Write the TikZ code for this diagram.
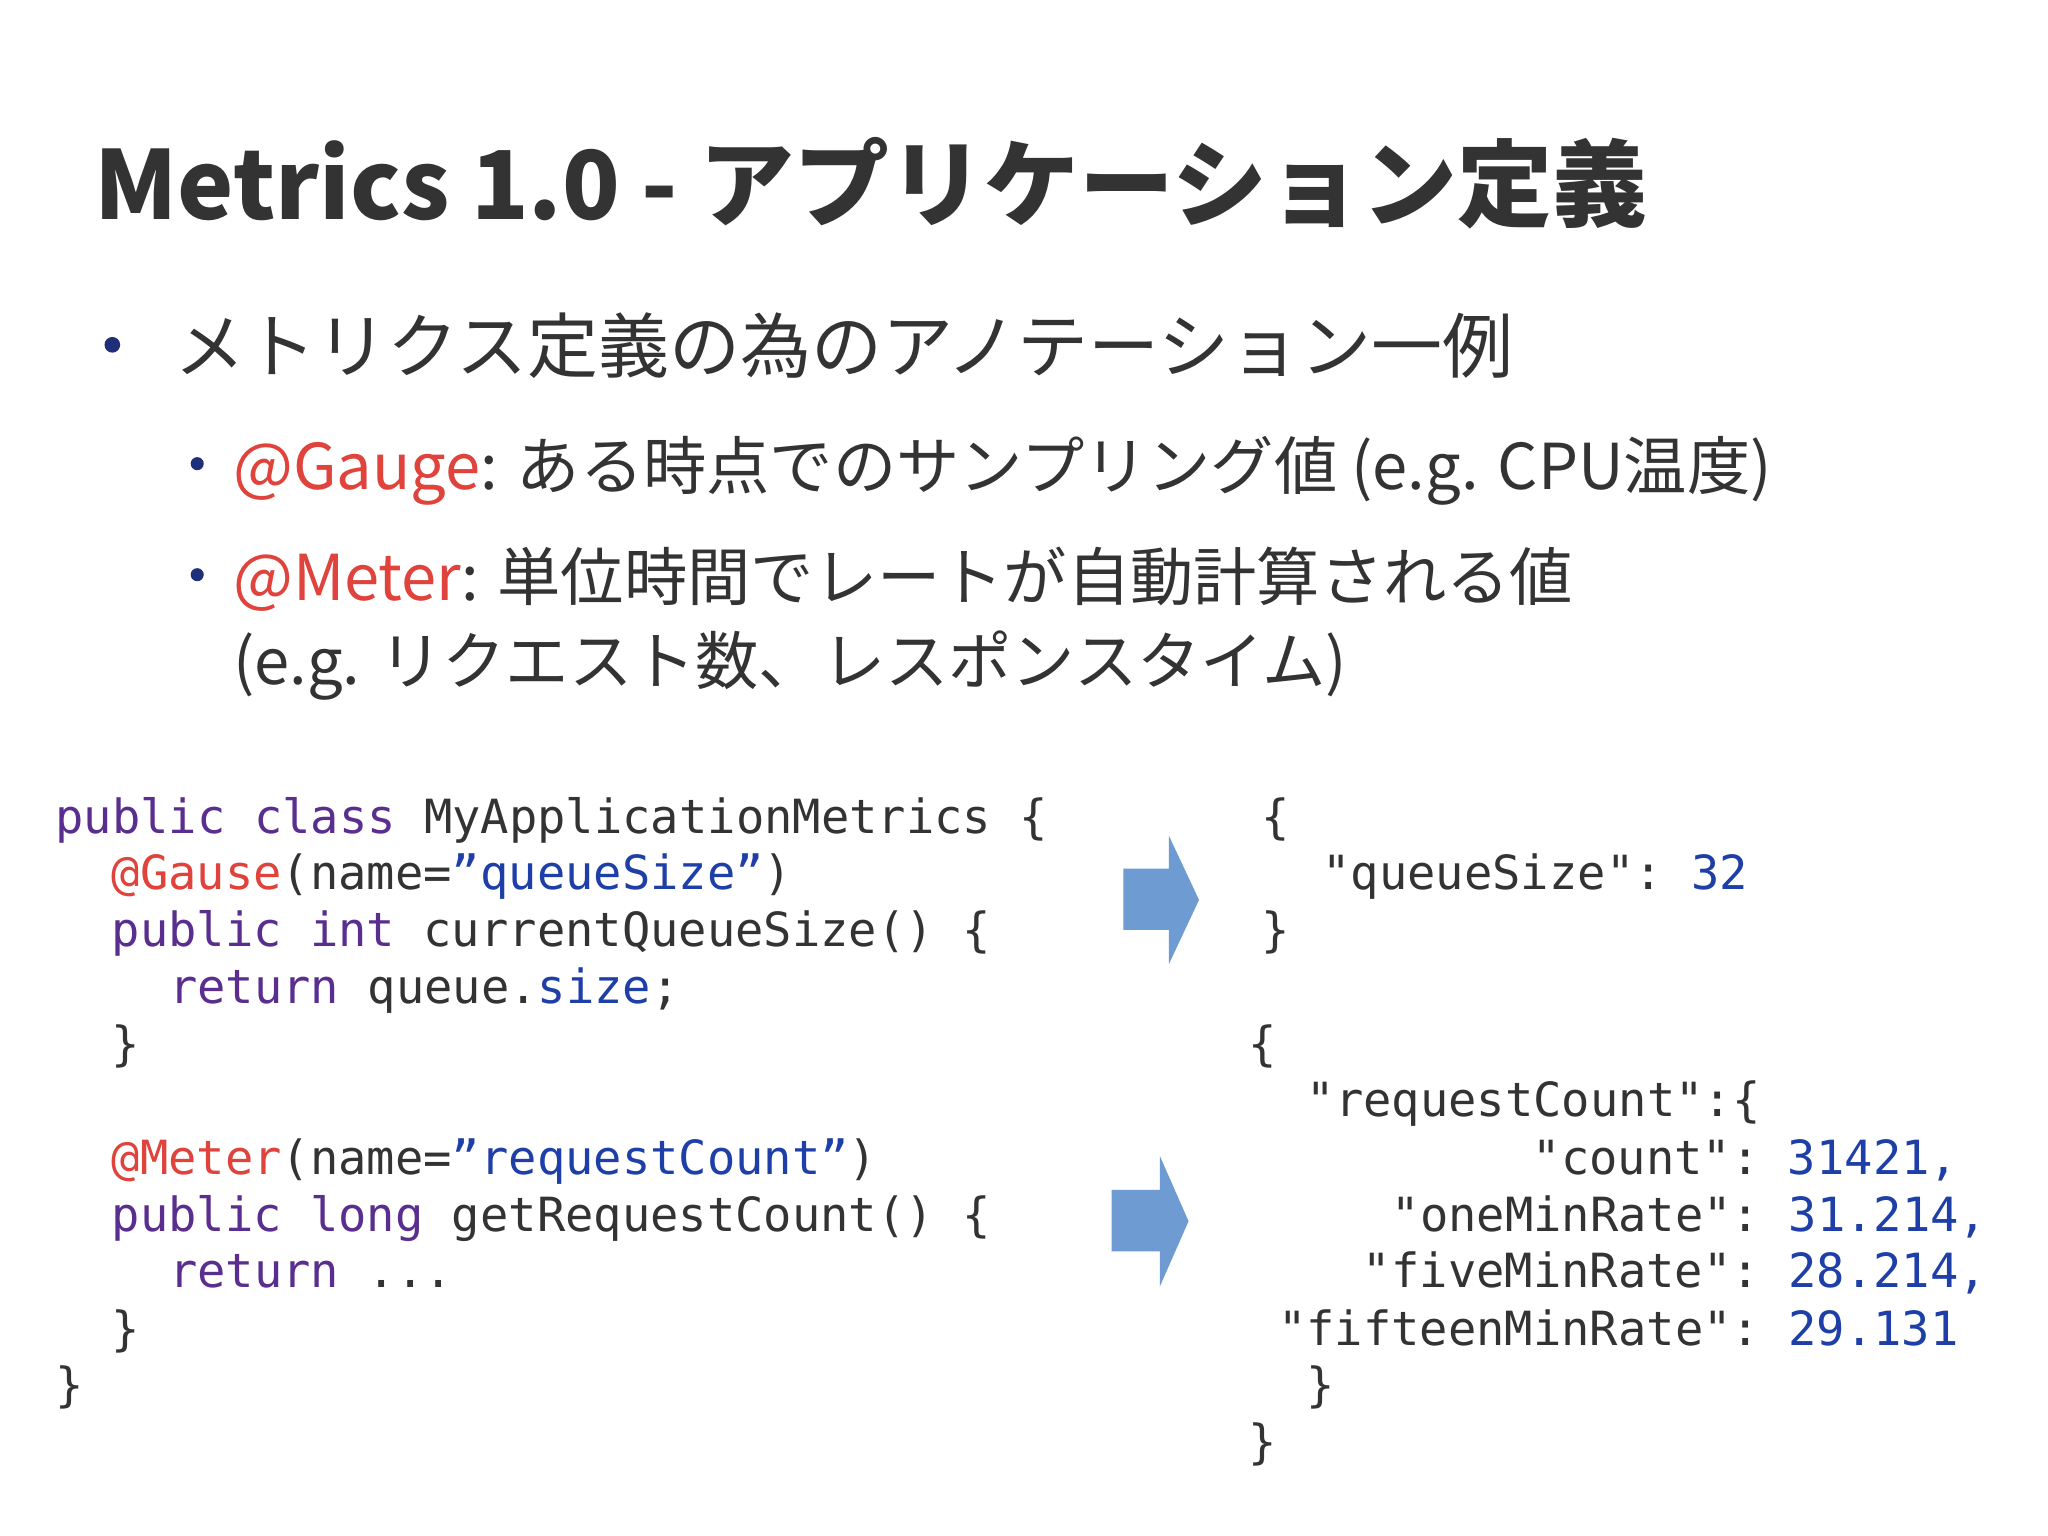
\documentclass[tikz,border=0pt]{standalone}
\usepackage{fontspec}
\setmainfont{Noto Sans CJK JP}
\setmonofont{DejaVu Sans Mono}
\definecolor{kw}{HTML}{5A2E8E}
\definecolor{an}{HTML}{E0423C}
\definecolor{st}{HTML}{1E3FA8}
\definecolor{tx}{HTML}{333333}
\definecolor{ar}{HTML}{6E9BD2}
\definecolor{bl}{HTML}{1F2F7A}
\tikzset{
 code/.style={anchor=base west,inner sep=0,font=\ttfamily\fontsize{13.4}{16}\selectfont,text=tx},
 lvone/.style={anchor=base west,inner sep=0,font=\fontsize{20.2}{24}\selectfont,text=tx},
 lvtwo/.style={anchor=base west,inner sep=0,font=\fontsize{18}{22}\selectfont,text=tx},
 blockarrow/.style={fill=ar,draw=none}
}
\begin{document}
\begin{tikzpicture}[x=0.013061cm,y=-0.013061cm]
\useasboundingbox (0,0) rectangle (1568,1176);
\fill[white] (0,0) rectangle (1568,1176);
\node[anchor=base west,inner sep=0,font=\bfseries\fontsize{27}{32}\selectfont,text=tx] (title) at (72,168) {Metrics 1.0 - アプリケーション定義};
\fill[bl] (86,264) circle (6) coordinate (b1);
\node[lvone] (t1) at (133,285) {メトリクス定義の為のアノテーション一例};
\fill[bl] (151,355) circle (5) coordinate (b2);
\node[lvtwo] (t2) at (178,375) {\textcolor{an}{@Gauge}: ある時点でのサンプリング値 (e.g. CPU温度)};
\fill[bl] (151,440) circle (5) coordinate (b3);
\node[lvtwo] (t3) at (178,460) {\textcolor{an}{@Meter}: 単位時間でレートが自動計算される値};
\node[lvtwo] (t4) at (178,524) {(e.g. リクエスト数、レスポンスタイム)};
% code
\node[code] (c1) at (42,638) {\textcolor{kw}{public class} MyApplicationMetrics \{};
\node[code] (c2) at (85,681) {\textcolor{an}{@Gause}(name=\textcolor{st}{”queueSize”})};
\node[code] (c3) at (85,725) {\textcolor{kw}{public int} currentQueueSize() \{};
\node[code] (c4) at (129,768) {\textcolor{kw}{return} queue.\textcolor{st}{size};};
\node[code] (c5) at (85,812) {\}};
\node[code] (c6) at (85,899) {\textcolor{an}{@Meter}(name=\textcolor{st}{”requestCount”})};
\node[code] (c7) at (85,943) {\textcolor{kw}{public long} getRequestCount() \{};
\node[code] (c8) at (129,986) {\textcolor{kw}{return} ...};
\node[code] (c9) at (85,1030) {\}};
\node[code] (c10) at (42,1073) {\}};
% json
\node[code] (j1) at (965,638) {\{};
\node[code] (j2) at (1012,681) {"queueSize": \textcolor{st}{32}};
\node[code] (j3) at (965,725) {\}};
\node[code] (k1) at (955,812) {\{};
\node[code] (k2) at (1000,855) {"requestCount":\{};
\node[code] (k3) at (1173,899) {"count": \textcolor{st}{31421,}};
\node[code] (k4) at (1065,943) {"oneMinRate": \textcolor{st}{31.214,}};
\node[code] (k5) at (1043,986) {"fiveMinRate": \textcolor{st}{28.214,}};
\node[code] (k6) at (978,1030) {"fifteenMinRate": \textcolor{st}{29.131}};
\node[code] (k7) at (1000,1073) {\}};
\node[code] (k8) at (955,1117) {\}};
% arrows
\fill[blockarrow] (860,665) -- (895,665) -- (895,640) -- (918,689) -- (895,738) -- (895,712) -- (860,712) -- cycle;
\fill[blockarrow] (851,911) -- (888,911) -- (888,885) -- (910,935) -- (888,985) -- (888,958) -- (851,958) -- cycle;
\end{tikzpicture}
\end{document}
